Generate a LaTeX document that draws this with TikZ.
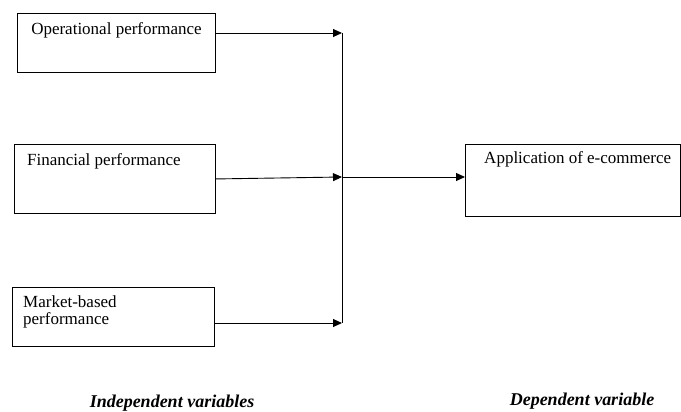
\documentclass[tikz,border=0pt]{standalone}
\usepackage{fontspec}
\setmainfont{Liberation Serif}
\usetikzlibrary{arrows.meta,calc}
\begin{document}
\begin{tikzpicture}[x=1pt,y=-1pt,
  box/.style={draw, line width=0.9pt, inner sep=0pt, anchor=north west},
  txt/.style={font=\fontsize{17}{16.5}\selectfont, inner sep=0pt},
  captxt/.style={font=\fontsize{18}{20}\selectfont\bfseries\itshape, inner sep=0pt, anchor=base},
  ln/.style={line width=0.9pt},
  arr/.style={line width=0.9pt, -{Triangle[length=9pt,width=8pt]}}]
\useasboundingbox (0,0) rectangle (681,412);
% boxes
\node[box, minimum width=198pt, minimum height=59pt] (op) at (17,13) {};
\node[box, minimum width=201pt, minimum height=69pt] (fin) at (14,144) {};
\node[box, minimum width=202pt, minimum height=59pt] (mk) at (12,287) {};
\node[box, minimum width=214.5pt, minimum height=72pt] (app) at (465,144) {};
% box texts
\node[txt, anchor=base] (optx) at ($(op.north)+(0,22)$) {Operational performance};
\node[txt, anchor=base west] (fintx) at ($(fin.north west)+(13,21)$) {Financial performance};
\node[txt, anchor=north west, align=left] (mktx) at ($(mk.north west)+(11,9)$) {Market-based\\performance};
\node[txt, anchor=base] (apptx) at ($(app.north)+(5,20)$) {Application of e-commerce};
% junction
\coordinate (j1) at (342,33);
\coordinate (j2) at (342,177);
\coordinate (j3) at (342,323);
\draw[ln] (j1) -- (j3);
\draw[arr] (op.east |- j1) -- (j1);
\draw[arr] (fin.east) -- (j2);
\draw[arr] (mk.east |- j3) -- (j3);
\draw[arr] (j2) -- (app.west |- j2);
% captions
\node[captxt] (iv) at (172,407) {Independent variables};
\node[captxt] (dv) at (582,405) {Dependent variable};
\end{tikzpicture}
\end{document}
